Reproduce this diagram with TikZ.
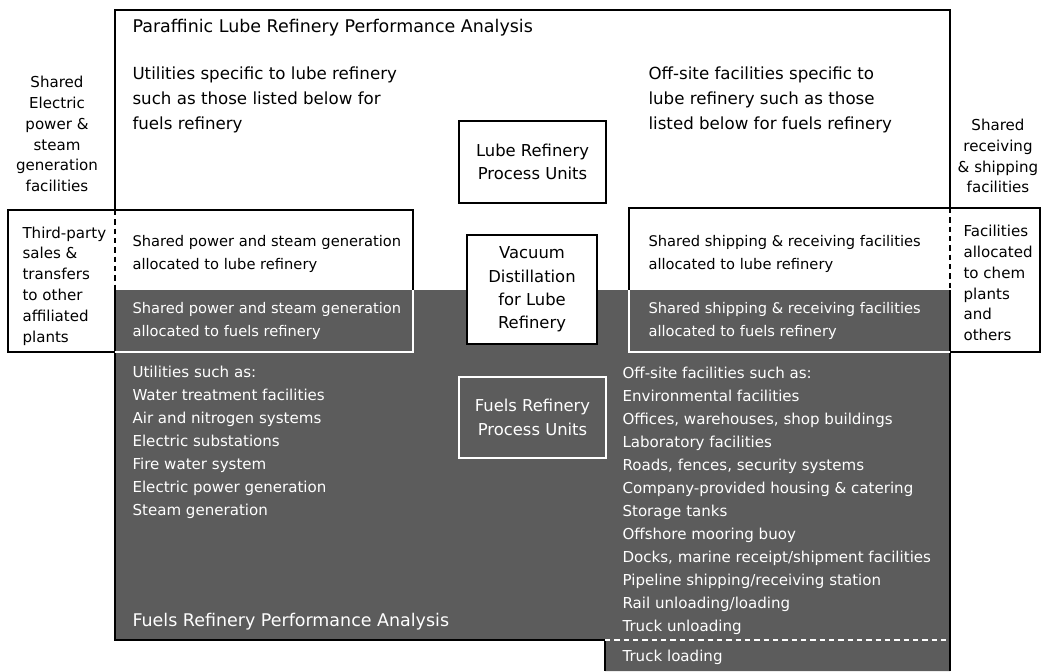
\documentclass[tikz,border=0pt]{standalone}
\usepackage{fontspec}
\setmainfont{DejaVu Sans}

\definecolor{fuelgray}{gray}{0.36}

\tikzset{
  bodytxt/.style={font=\fontsize{11}{17.25}\selectfont, align=left, anchor=west, inner sep=0pt},
  listtxt/.style={font=\fontsize{11.3}{17.25}\selectfont, align=left, anchor=west, inner sep=0pt, text=white},
  bigtxt/.style={font=\fontsize{12.5}{18.75}\selectfont, align=left, anchor=west, inner sep=0pt},
  titletxt/.style={font=\fontsize{13.1}{18.75}\selectfont, anchor=west, inner sep=0pt},
  sidetxt/.style={font=\fontsize{11.3}{15.6}\selectfont, align=center, inner sep=0pt},
  unitbox/.style={draw, align=center, inner sep=0pt, font=\fontsize{12.3}{17.6}\selectfont},
  sharedline/.style={dash pattern=on 4pt off 3pt},
}

\begin{document}
\begin{tikzpicture}[x=0.75pt, y=-0.75pt, line width=0.8pt]
    % 画像の範囲を固定
    \useasboundingbox (0,0) rectangle (1044,671);

    % 主な角の座標
    \coordinate (TL) at (115,10);
    \coordinate (TR) at (950,10);
    \coordinate (ML) at (115,290);
    \coordinate (MR) at (950,290);

    % 燃料製油所の領域 (濃い網掛け)
    \fill[fuelgray] (ML) -- (MR) -- (950,671) -- (605,671) -- (605,640) -- (115,640) -- cycle;
    \draw (ML) -- (115,640) -- (605,640) -- (605,671);
    \draw (MR) -- (950,671);
    \draw[white, sharedline] (605,640) -- (950,640);

    % 潤滑油製油所の枠 (共有部分は破線)
    \draw (115,210) -- (TL) -- (TR) -- (950,208);
    \draw[sharedline] (115,210) -- (ML);
    \draw[sharedline] (950,208) -- (MR);

    % 両脇の箱
    \draw (115,210) -- (8,210) -- (8,352) -- (115,352);
    \draw (950,208) -- (1040,208) -- (1040,352) -- (950,352);

    % 共有設備の箱 (上半分は黒線、下半分は白線)
    \draw (115,210) -- (413,210) -- (413,290);
    \draw[white] (413,290) -- (413,352) -- (115,352);
    \draw (629,290) -- (629,208) -- (950,208);
    \draw[white] (629,290) -- (629,352) -- (950,352);

    % 中央の処理装置
    \node[unitbox, minimum width=110.25pt, minimum height=61.5pt] (lubeunits) at (532.5,162) {Lube Refinery\\Process Units};
    \node[unitbox, fill=white, minimum width=97.5pt, minimum height=81.75pt] (vacuum) at (532,289.5) {Vacuum\\Distillation\\for Lube\\Refinery};
    \node[unitbox, draw=white, text=white, minimum width=110.25pt, minimum height=60.75pt] (fuelunits) at (532.5,417.5) {Fuels Refinery\\Process Units};

    % 上部の文章
    \node[titletxt] (lubetitle) at (132,28) {Paraffinic Lube Refinery Performance Analysis};
    \node[bigtxt] (lubeutil) at (132,100) {Utilities specific to lube refinery\\such as those listed below for\\fuels refinery};
    \node[bigtxt] (lubeoffsite) at (648,100) {Off-site facilities specific to\\lube refinery such as those\\listed below for fuels refinery};

    % 両脇の文章
    \node[sidetxt] (sharedpower) at (57,134) {Shared\\Electric\\power \&\\steam\\generation\\facilities};
    \node[sidetxt] (sharedship) at (998,156) {Shared\\receiving\\\& shipping\\facilities};
    \node[sidetxt, align=left, anchor=west] (thirdparty) at (22,286) {Third-party\\sales \&\\transfers\\to other\\affiliated\\plants};
    \node[sidetxt, align=left, anchor=west] (chemplants) at (963,283) {Facilities\\allocated\\to chem\\plants\\and\\others};

    % 共有設備の文章
    \node[bodytxt] (powerlube) at (132,253.5) {Shared power and steam generation\\allocated to lube refinery};
    \node[bodytxt] (shiplube) at (648,253.5) {Shared shipping \& receiving facilities\\allocated to lube refinery};
    \node[bodytxt, text=white] (powerfuel) at (132,321) {Shared power and steam generation\\allocated to fuels refinery};
    \node[bodytxt, text=white] (shipfuel) at (648,321) {Shared shipping \& receiving facilities\\allocated to fuels refinery};

    % 燃料製油所の一覧
    \node[listtxt] (utillist) at (132,442) {Utilities such as:\\Water treatment facilities\\Air and nitrogen systems\\Electric substations\\Fire water system\\Electric power generation\\Steam generation};
    \node[listtxt] (offsitelist) at (622,501) {Off-site facilities such as:\\Environmental facilities\\Offices, warehouses, shop buildings\\Laboratory facilities\\Roads, fences, security systems\\Company-provided housing \& catering\\Storage tanks\\Offshore mooring buoy\\Docks, marine receipt/shipment facilities\\Pipeline shipping/receiving station\\Rail unloading/loading\\Truck unloading};
    \node[listtxt] (truckload) at (622,657) {Truck loading};
    \node[titletxt, text=white] (fueltitle) at (132,622) {Fuels Refinery Performance Analysis};
\end{tikzpicture}
\end{document}
